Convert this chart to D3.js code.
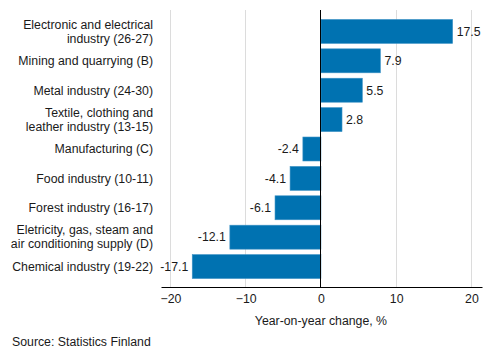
<!DOCTYPE html>
<html><head><meta charset="utf-8">
<script src="https://cdn.jsdelivr.net/npm/d3@7"></script>
<style>body{margin:0;background:#fff}text{font-family:"Liberation Sans",Arial,sans-serif}</style>
</head><body>
<svg id="c" width="493" height="360"></svg>
<script>
const categories = [
  ["Electronic and electrical","industry (26-27)"],
  ["Mining and quarrying (B)"],
  ["Metal industry (24-30)"],
  ["Textile, clothing and","leather industry (13-15)"],
  ["Manufacturing (C)"],
  ["Food industry (10-11)"],
  ["Forest industry (16-17)"],
  ["Eletricity, gas, steam and","air conditioning supply (D)"],
  ["Chemical industry (19-22)"]
];
const values = [17.5, 7.9, 5.5, 2.8, -2.4, -4.1, -6.1, -12.1, -17.1];
const tickValues = [-20, -10, 0, 10, 20];
const axisTitle = "Year-on-year change, %";
const source = "Source: Statistics Finland";

const FS = 12.3;
const svg = d3.select("#c");
const x = d3.scaleLinear().domain([-21.25, 21.4]).range([161, 482]);
const y = d3.scaleBand().domain(d3.range(categories.length)).range([11, 287]).paddingInner(0.184).paddingOuter(0.287);

svg.append("g").selectAll("line").data(tickValues.filter(d => d !== 0)).join("line")
  .attr("x1", d => x(d)).attr("x2", d => x(d)).attr("y1", 10).attr("y2", 287)
  .attr("stroke", "#dcdcdc").attr("stroke-width", 1).attr("shape-rendering","crispEdges");

svg.append("g").selectAll("rect").data(values).join("rect")
  .attr("x", d => x(Math.min(0, d))).attr("width", d => Math.abs(x(d) - x(0)))
  .attr("y", (d, i) => y(i)).attr("height", y.bandwidth())
  .attr("fill", "#0072b1").attr("stroke", "#3f93c6").attr("stroke-width", 0.6);

svg.append("g").selectAll("text").data(values).join("text")
  .attr("x", d => d >= 0 ? x(d) + 4 : x(d) - 4)
  .attr("y", (d, i) => y(i) + y.bandwidth() / 2)
  .attr("dy", "0.35em")
  .attr("text-anchor", d => d >= 0 ? "start" : "end")
  .attr("font-size", FS).attr("fill", "#1a1a1a")
  .text(d => d.toFixed(1));

svg.append("line").attr("x1", x(0)).attr("x2", x(0)).attr("y1", 10).attr("y2", 287)
  .attr("stroke", "#000").attr("stroke-width", 1).attr("shape-rendering","crispEdges");

const ax = svg.append("g").attr("transform", "translate(0,287)")
  .call(d3.axisBottom(x).tickValues(tickValues).tickSize(0).tickPadding(7).tickFormat(d3.format("d")));
ax.select(".domain").attr("stroke", "#000");
ax.selectAll("text").attr("font-size", FS).attr("fill", "#1a1a1a").attr("font-family", '"Liberation Sans",Arial,sans-serif');

const lab = svg.append("g").selectAll("text").data(categories).join("text")
  .attr("text-anchor", "end").attr("font-size", FS).attr("fill", "#1a1a1a")
  .attr("transform", (d, i) => `translate(153,${y(i) + y.bandwidth() / 2})`);
lab.each(function (d) {
  const t = d3.select(this);
  const n = d.length;
  d.forEach((line, k) => {
    t.append("tspan").attr("x", 0).attr("y", (k - (n - 1) / 2) * 14).attr("dy", "0.35em").text(line);
  });
});

svg.append("text").attr("x", x(0)).attr("y", 325).attr("text-anchor", "middle")
  .attr("font-size", FS).attr("fill", "#1a1a1a").text(axisTitle);
svg.append("text").attr("x", 12).attr("y", 346).attr("font-size", FS).attr("fill", "#1a1a1a").text(source);
</script>
</body></html>
